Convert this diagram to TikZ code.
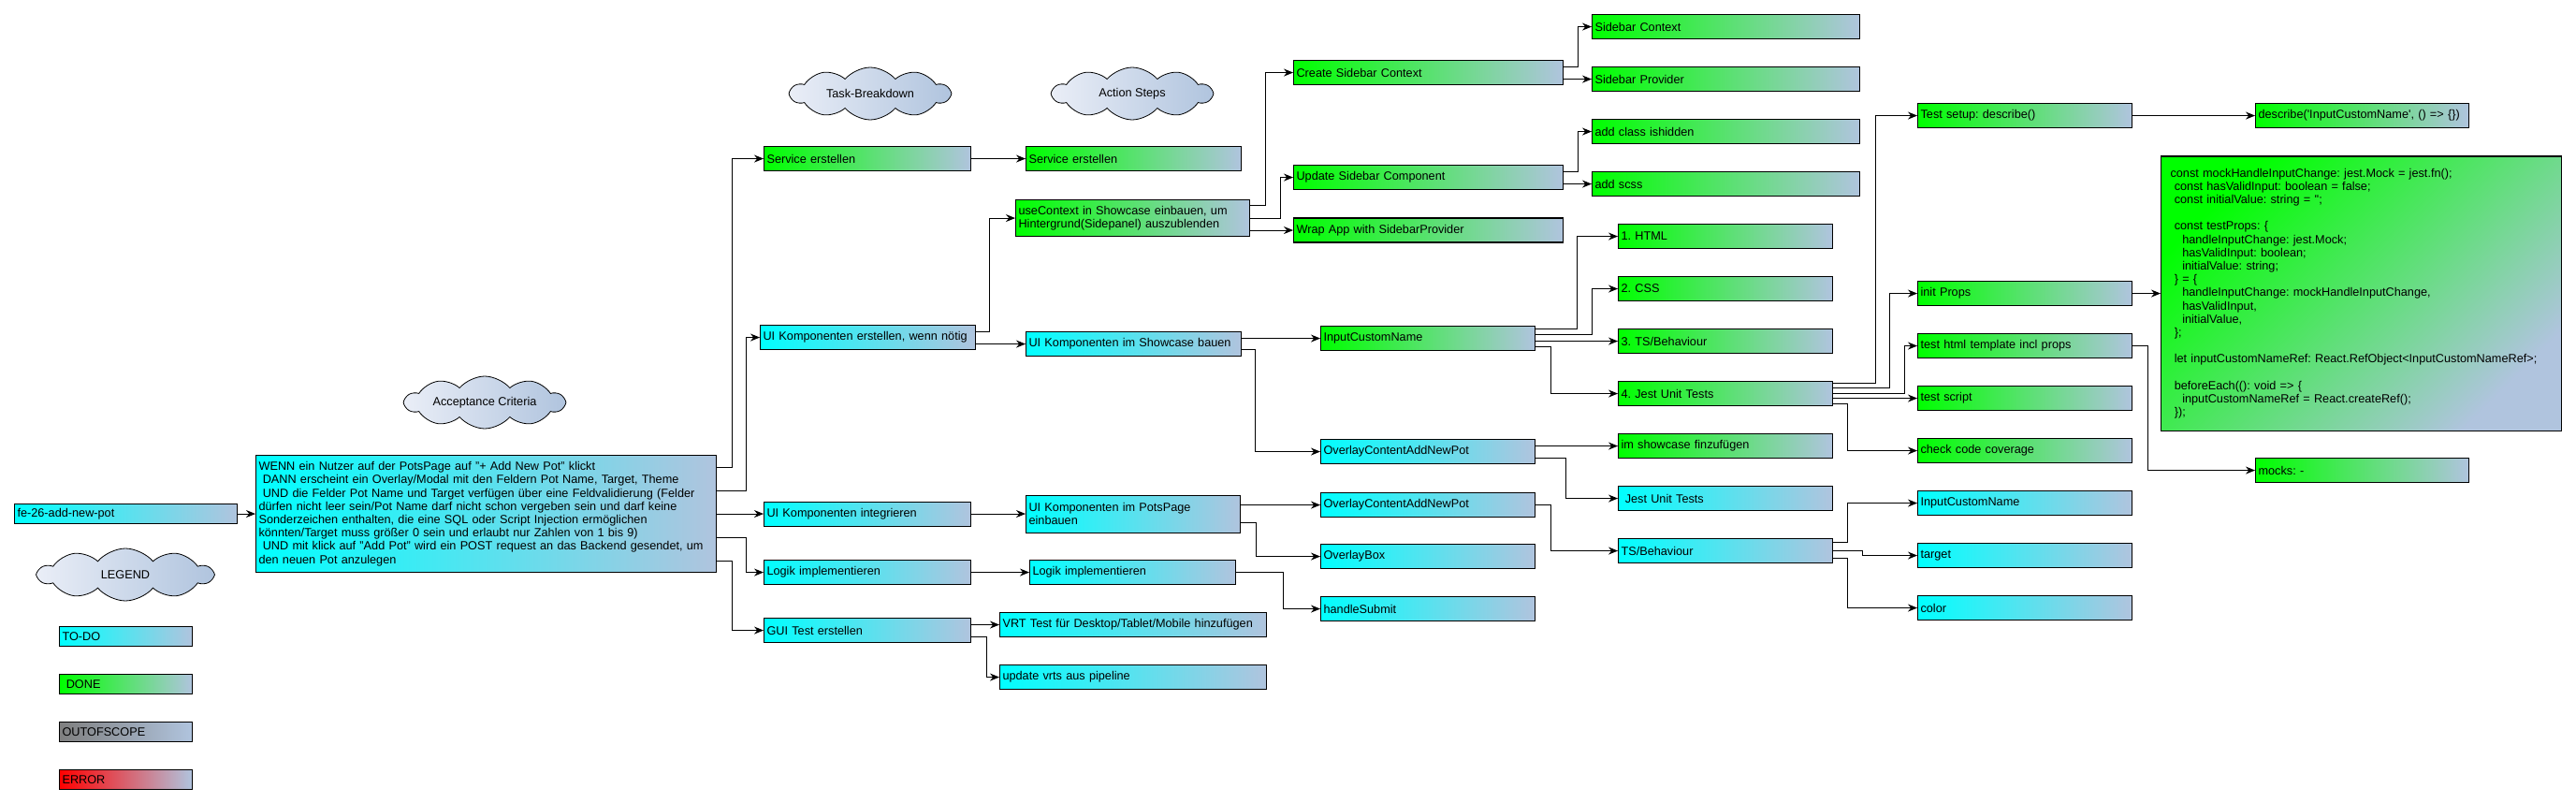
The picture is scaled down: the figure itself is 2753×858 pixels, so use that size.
\documentclass[tikz,border=0pt]{standalone}
\usepackage{fontspec}
\setmainfont{Liberation Sans}
\usepackage{tikz}
\usetikzlibrary{arrows.meta,positioning,shapes.symbols,calc}
\definecolor{steel}{RGB}{176,196,222}
\definecolor{cloudl}{RGB}{234,238,247}
\frenchspacing
\tikzset{
  box/.style={draw, line width=1.1pt, anchor=north west, inner xsep=3pt, inner ysep=0pt, minimum height=26pt, text width=223pt, align=left},
  todo/.style={box, left color=cyan, right color=steel},
  done/.style={box, left color=green, right color=steel},
  oos/.style={box, left color=gray, right color=steel},
  err/.style={box, left color=red, right color=steel},
  lg/.style={minimum height=21pt, text width=136pt},
  bubble/.style={draw, cloud, cloud puffs=10, cloud puff arc=100, cloud ignores aspect, minimum width=170pt, minimum height=56pt, inner sep=0pt, left color=cloudl, right color=steel, line width=0.8pt},
  arrow/.style={-{Stealth[length=10pt,width=8pt]}, line width=1pt}
}
\begin{document}
\begin{tikzpicture}[x=1pt, y=-1pt, font=\fontsize{12.7}{14.2}\selectfont]
    \useasboundingbox[fill=white] (0,0) rectangle (2753,858);

    % Clouds
    \node[bubble] (accCloud) at (518,430) {Acceptance Criteria};
    \node[bubble, minimum width=186pt] (lgCloud) at (134,614) {LEGEND};
    \node[bubble] (taskCloud) at (930,100) {Task-Breakdown};
    \node[bubble] (stepCloud) at (1210,100) {Action Steps};

    % Legend
    \node[todo, lg] (lgTodo) at (63,669) {TO-DO};
    \node[done, lg] (lgDone) at (63,720) {~DONE};
    \node[oos, lg] (lgOos) at (63,771) {OUTOFSCOPE};
    \node[err, lg] (lgErr) at (63,822) {ERROR};

    % Ticket and criteria
    \node[todo, minimum height=21pt, text width=232pt] (ticket) at (15,538) {fe-26-add-new-pot};
    \node[todo, minimum height=125pt, text width=486pt] (crit) at (273,486) {WENN ein Nutzer auf der PotsPage auf "+ Add New Pot" klickt\\
      ~DANN erscheint ein Overlay/Modal mit den Feldern Pot Name, Target, Theme\\
      ~UND die Felder Pot Name und Target verfügen über eine Feldvalidierung (Felder\\
      dürfen nicht leer sein/Pot Name darf nicht schon vergeben sein und darf keine\\
      Sonderzeichen enthalten, die eine SQL oder Script Injection ermöglichen\\
      könnten/Target muss größer 0 sein und erlaubt nur Zahlen von 1 bis 9)\\
      ~UND mit klick auf "Add Pot" wird ein POST request an das Backend gesendet, um\\
      den neuen Pot anzulegen};

    % Task-Breakdown
    \node[done, text width=215pt] (svcT) at (816,156) {Service erstellen};
    \node[todo, text width=224pt] (uiT) at (812,347) {UI Komponenten erstellen, wenn nötig};
    \node[todo, text width=215pt] (intT) at (816,535.5) {UI Komponenten integrieren};
    \node[todo, text width=215pt] (logT) at (816,598) {Logik implementieren};
    \node[todo, text width=215pt] (guiT) at (816,660) {GUI Test erstellen};

    % Action Steps
    \node[done, text width=224pt] (svcA) at (1096,156) {Service erstellen};
    \node[done, text width=244pt, minimum height=39pt] (ctxA) at (1085,213) {useContext in Showcase einbauen, um\\Hintergrund(Sidepanel) auszublenden};
    \node[todo, text width=224pt] (showA) at (1096,354) {UI Komponenten im Showcase bauen};
    \node[todo, minimum height=40pt] (potsA) at (1096,528.5) {UI Komponenten im PotsPage\\einbauen};
    \node[todo, text width=214pt] (logA) at (1100,598) {Logik implementieren};
    \node[todo, text width=279pt] (vrtA) at (1068,654) {VRT Test für Desktop/Tablet/Mobile hinzufügen};
    \node[todo, text width=279pt] (vrtsA) at (1068,710) {update vrts aus pipeline};

    % Components
    \node[done, text width=282pt] (createC) at (1382,64) {Create Sidebar Context};
    \node[done, text width=282pt] (updateC) at (1382,176) {Update Sidebar Component};
    \node[done, text width=282pt] (wrapC) at (1382,232.5) {Wrap App with SidebarProvider};
    \node[done] (inputC) at (1411,348) {InputCustomName};
    \node[todo] (overC1) at (1411,469) {OverlayContentAddNewPot};
    \node[todo] (overC2) at (1411,526) {OverlayContentAddNewPot};
    \node[todo] (overBox) at (1411,581) {OverlayBox};
    \node[todo] (submit) at (1411,637) {handleSubmit};

    % Sub steps
    \node[done, text width=280pt] (sbCtx) at (1701,15) {Sidebar Context};
    \node[done, text width=280pt] (sbProv) at (1701,71) {Sidebar Provider};
    \node[done, text width=280pt] (addHidden) at (1701,127) {add class ishidden};
    \node[done, text width=280pt] (addScss) at (1701,183) {add scss};
    \node[done] (html) at (1729,239) {1. HTML};
    \node[done] (css) at (1729,295) {2. CSS};
    \node[done] (ts) at (1729,351) {3. TS/Behaviour};
    \node[done] (jest) at (1729,407) {4. Jest Unit Tests};
    \node[done] (imShow) at (1729,463) {im showcase finzufügen};
    \node[todo] (jest2) at (1729,519) {~Jest Unit Tests};
    \node[todo] (ts2) at (1729,575) {TS/Behaviour};

    % Tests
    \node[done] (setup) at (2049,110) {Test setup: describe()};
    \node[done] (props) at (2049,300) {init Props};
    \node[done] (tmpl) at (2049,356) {test html template incl props};
    \node[done] (script) at (2049,412) {test script};
    \node[done] (cover) at (2049,468) {check code coverage};
    \node[todo] (inName) at (2049,524) {InputCustomName};
    \node[todo] (tgt) at (2049,580) {target};
    \node[todo] (clr) at (2049,636) {color};

    % Code
    \node[done, text width=222pt] (describe) at (2410,110) {describe(\textquotesingle InputCustomName\textquotesingle, () => \{\})};
    \node[done, text width=222pt] (mocks) at (2410,489) {mocks: -};
    \node[done, shading angle=45, inner xsep=10pt, text width=408pt, minimum height=293pt] (code) at (2309,166.5) {const mockHandleInputChange: jest.Mock = jest.fn();\\
      ~const hasValidInput: boolean = false;\\
      ~const initialValue: string = \textquotesingle\textquotesingle;\\
      ~\\
      ~const testProps: \{\\
      ~~~handleInputChange: jest.Mock;\\
      ~~~hasValidInput: boolean;\\
      ~~~initialValue: string;\\
      ~\} = \{\\
      ~~~handleInputChange: mockHandleInputChange,\\
      ~~~hasValidInput,\\
      ~~~initialValue,\\
      ~\};\\
      ~\\
      ~let inputCustomNameRef: React.RefObject<InputCustomNameRef>;\\
      ~\\
      ~beforeEach((): void => \{\\
      ~~~inputCustomNameRef = React.createRef();\\
      ~\});};

    % Arrows
    \draw[arrow] (ticket) -- (crit);
    \draw[arrow] ([yshift=50pt]crit.east) -- ++(16,0) |- (svcT.west);
    \draw[arrow] ([yshift=25pt]crit.east) -- ++(31,0) |- (uiT.west);
    \draw[arrow] (crit.east) -- (intT.west);
    \draw[arrow] ([yshift=-25pt]crit.east) -- ++(31,0) |- (logT.west);
    \draw[arrow] ([yshift=-50pt]crit.east) -- ++(16,0) |- (guiT.west);

    \draw[arrow] (svcT) -- (svcA);
    \draw[arrow] ([yshift=6pt]uiT.east) -- ++(14,0) |- (ctxA.west);
    \draw[arrow] ([yshift=-7pt]uiT.east) -- (showA.west);
    \draw[arrow] (intT) -- (potsA);
    \draw[arrow] (logT) -- (logA);
    \draw[arrow] ([yshift=6pt]guiT.east) -- (vrtA.west);
    \draw[arrow] ([yshift=-7pt]guiT.east) -- ++(16,0) |- (vrtsA.west);

    \draw[arrow] ([yshift=13.5pt]ctxA.east) -- ++(16,0) |- (createC.west);
    \draw[arrow] (ctxA.east) -- ++(32,0) |- (updateC.west);
    \draw[arrow] ([yshift=-13pt]ctxA.east) -- (wrapC.west);
    \draw[arrow] ([yshift=6pt]showA.east) -- (inputC.west);
    \draw[arrow] ([yshift=-6pt]showA.east) -- ++(14,0) |- (overC1.west);
    \draw[arrow] ([yshift=9.5pt]potsA.east) -- (overC2.west);
    \draw[arrow] ([yshift=-9.5pt]potsA.east) -- ++(16,0) |- (overBox.west);
    \draw[arrow] (logA.east) -- ++(50,0) |- (submit.west);

    \draw[arrow] ([yshift=6pt]createC.east) -- ++(15,0) |- (sbCtx.west);
    \draw[arrow] ([yshift=-7pt]createC.east) -- (sbProv.west);
    \draw[arrow] ([yshift=6pt]updateC.east) -- ++(15,0) |- (addHidden.west);
    \draw[arrow] ([yshift=-7pt]updateC.east) -- (addScss.west);
    \draw[arrow] ([yshift=10pt]inputC.east) -- ++(44,0) |- (html.west);
    \draw[arrow] ([yshift=4pt]inputC.east) -- ++(60,0) |- (css.west);
    \draw[arrow] ([yshift=-3pt]inputC.east) -- (ts.west);
    \draw[arrow] ([yshift=-9pt]inputC.east) -- ++(16,0) |- (jest.west);
    \draw[arrow] ([yshift=6pt]overC1.east) -- (imShow.west);
    \draw[arrow] ([yshift=-7pt]overC1.east) -- ++(32,0) |- (jest2.west);
    \draw[arrow] (overC2.east) -- ++(16,0) |- (ts2.west);

    \draw[arrow] ([yshift=11pt]jest.east) -- ++(45,0) |- (setup.west);
    \draw[arrow] ([yshift=6pt]jest.east) -- ++(60,0) |- (props.west);
    \draw[arrow] (jest.east) -- ++(76,0) |- (tmpl.west);
    \draw[arrow] ([yshift=-5pt]jest.east) -- (script.west);
    \draw[arrow] ([yshift=-11pt]jest.east) -- ++(15,0) |- (cover.west);
    \draw[arrow] ([yshift=9pt]ts2.east) -- ++(15,0) |- (inName.west);
    \draw[arrow] (ts2.east) -- ++(31,0) |- (tgt.west);
    \draw[arrow] ([yshift=-8pt]ts2.east) -- ++(15,0) |- (clr.west);

    \draw[arrow] (setup) -- (describe);
    \draw[arrow] (props.east) -- (code.west);
    \draw[arrow] (tmpl.east) -- ++(16,0) |- (mocks.west);
  \end{tikzpicture}
\end{document}
